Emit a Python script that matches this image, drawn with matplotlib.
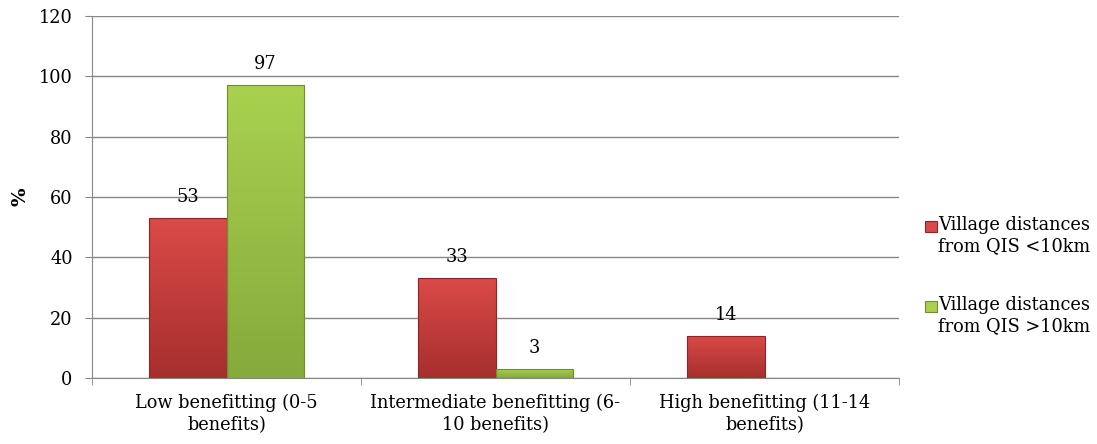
import matplotlib
matplotlib.use("Agg")
import matplotlib.pyplot as plt
import numpy as np
from matplotlib.patches import Rectangle
from matplotlib.colors import LinearSegmentedColormap

categories = ["Low benefitting (0-5\nbenefits)", "Intermediate benefitting (6-\n10 benefits)", "High benefitting (11-14\nbenefits)"]
series_names = ["Village distances\nfrom QIS <10km", "Village distances\nfrom QIS >10km"]
near_vals = [53, 33, 14]
far_vals = [97, 3, 0]
far_labels = ["97", "3", ""]

plt.rcParams['font.family'] = ['DejaVu Serif']
FS = 12.8
fig = plt.figure(figsize=(10.97, 4.44), dpi=100)
ax = fig.add_axes([92/1097, 1-378/444, (899-92)/1097, (378-16)/444])

x = np.arange(len(categories))
w = 0.287
cols = [("#DA4A48", "#A62F2D", "#8E2424"), ("#A9D14F", "#86AA3C", "#6E8E2E")]

def grad_bars(bars, top, bot):
    cmap = LinearSegmentedColormap.from_list("g", [bot, top])
    for b in bars:
        h = b.get_height()
        if h <= 0:
            continue
        b.set_facecolor("none")
        x0, y0 = b.get_x(), b.get_y()
        grad = np.linspace(0, 1, 100).reshape(-1, 1)
        im = ax.imshow(grad, extent=[x0, x0 + b.get_width(), y0, y0 + h], origin="lower",
                       aspect="auto", cmap=cmap, zorder=2)
        im.set_clip_path(b)

b1 = ax.bar(x - w/2, near_vals, w, color=cols[0][0], edgecolor=cols[0][2], linewidth=0.8, zorder=3)
b2 = ax.bar(x + w/2, far_vals, w, color=cols[1][0], edgecolor=cols[1][2], linewidth=0.8, zorder=3)
grad_bars(b1, cols[0][0], cols[0][1])
grad_bars(b2, cols[1][0], cols[1][1])

for xi, v in zip(x - w/2, near_vals):
    ax.text(xi, v + 5.3, str(v), ha="center", va="baseline", fontsize=FS)
for xi, v, lab in zip(x + w/2, far_vals, far_labels):
    if lab:
        ax.text(xi, v + 5.3, lab, ha="center", va="baseline", fontsize=FS)

ax.set_xlim(-0.5, 2.5)
ax.set_ylim(0, 120)
ax.set_yticks(range(0, 121, 20))
ax.yaxis.grid(True, color="#868686", linewidth=1, zorder=0)
ax.set_axisbelow(True)
ax.set_xticks(x)
ax.set_xticklabels(categories, fontsize=FS, linespacing=1.3)
ax.set_xticks([-0.5, 0.5, 1.5, 2.5], minor=True)
ax.tick_params(axis="x", which="major", length=0, pad=11)
ax.tick_params(axis="x", which="minor", length=5, color="#868686", direction="out")
ax.tick_params(axis="y", length=5, color="#868686", labelsize=FS, pad=9)
for s in ["top", "right"]:
    ax.spines[s].set_visible(False)
for s in ["left", "bottom"]:
    ax.spines[s].set_color("#868686")
ax.set_ylabel("%", fontsize=14, fontweight="bold", labelpad=7)

# legend (manual, marker aligned with first text line)
leg_y = [226, 306]
for (top, bot, edge), name, yy in zip(cols, series_names, leg_y):
    fig.add_artist(Rectangle((925/1097, 1-(yy+6)/444), 12/1097, 11/444, transform=fig.transFigure,
                             facecolor=top, edgecolor=edge, linewidth=0.8))
    fig.text(938/1097, 1-(yy-10)/444, name, fontsize=FS, va="top", ha="left", linespacing=1.2)

fig.savefig("out.png", dpi=100)
